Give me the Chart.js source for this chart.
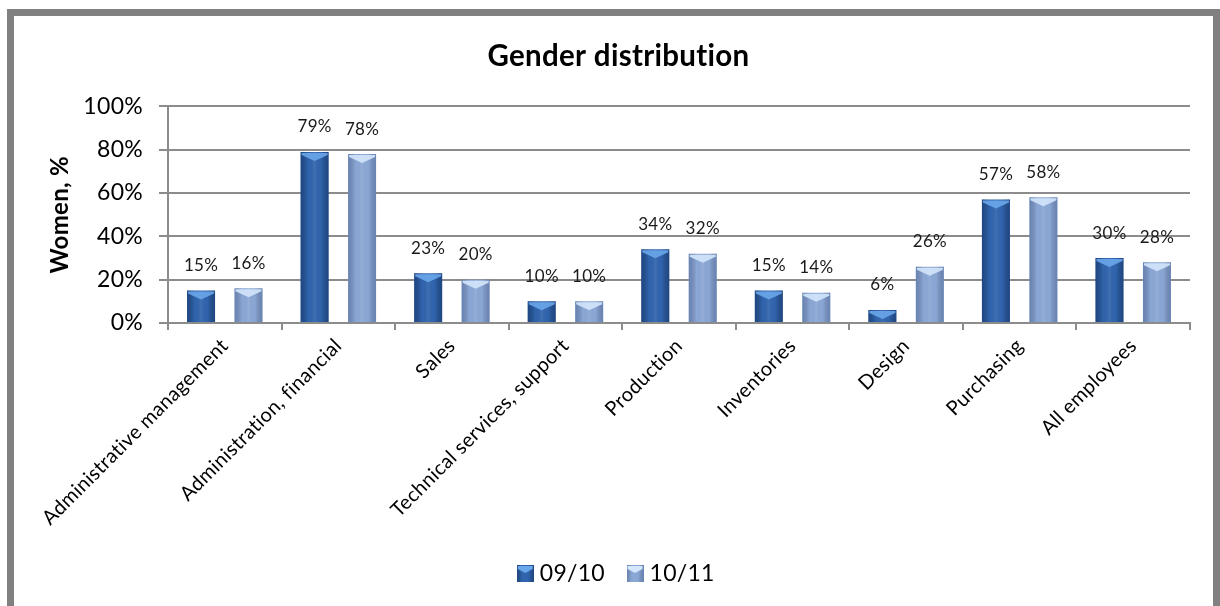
<!DOCTYPE html>
<html>
<head>
<meta charset="utf-8">
<title>Gender distribution</title>
<script src="https://cdn.jsdelivr.net/npm/chart.js@4.4.0/dist/chart.umd.min.js"></script>
<style>
  html, body { margin: 0; padding: 0; background: #fff; overflow: hidden; }
  .frame {
    position: absolute; left: 7px; top: 9px;
    width: 1213px; height: 620px;
    box-sizing: border-box;
    border: 7px solid #808080;
    border-bottom: none;
    background: #fff;
  }
  .chart-box { position: absolute; left: 0; top: 0; width: 1199px; height: 590px; }
</style>
</head>
<body>
<div class="frame">
  <div class="chart-box"><canvas id="genderChart"></canvas></div>
</div>
<script>
  const categories = [
    'Administrative management', 'Administration, financial', 'Sales',
    'Technical services, support', 'Production', 'Inventories',
    'Design', 'Purchasing', 'All employees'
  ];
  const seriesNames = ['09/10', '10/11'];
  const women0910 = [15, 79, 23, 10, 34, 15, 6, 57, 30];
  const women1011 = [16, 78, 20, 10, 32, 14, 26, 58, 28];
  const yTicks = [0, 20, 40, 60, 80, 100];

  const bodyColors = ['#3064ad', '#8ba7d5'];
  const edgeColors = ['rgba(10,35,80,0.45)', 'rgba(40,65,120,0.35)'];
  const capColors = ['#6aa6ea', '#d3e6fb'];

  Chart.defaults.font.family = 'Lato, "Open Sans", sans-serif';
  Chart.defaults.color = '#000';

  // small bevelled square used as legend marker
  function legendMarker(i) {
    const c = document.createElement('canvas');
    c.width = 17; c.height = 17;
    const g = c.getContext('2d');
    g.fillStyle = bodyColors[i];
    g.fillRect(0, 0, 17, 17);
    const lg = g.createLinearGradient(0, 0, 17, 0);
    lg.addColorStop(0, edgeColors[i]);
    lg.addColorStop(0.3, 'rgba(0,0,0,0)');
    lg.addColorStop(0.7, 'rgba(0,0,0,0)');
    lg.addColorStop(1, edgeColors[i]);
    g.fillStyle = lg;
    g.fillRect(0, 0, 17, 17);
    g.fillStyle = capColors[i];
    g.beginPath();
    g.moveTo(1, 1); g.lineTo(16, 1); g.lineTo(16, 4); g.lineTo(8.5, 8); g.lineTo(1, 4);
    g.closePath(); g.fill();
    return c;
  }

  // slight tracking keeps "fi"/"ti" from turning into ligatures
  const textSpacing = {
    id: 'textSpacing',
    beforeLayout(chart) { chart.ctx.letterSpacing = '0.3px'; },
    beforeDraw(chart) { chart.ctx.letterSpacing = '0.3px'; }
  };

  // shading + value labels on top of the plain bars
  const barStyling = {
    id: 'barStyling',
    afterDatasetsDraw(chart) {
      const ctx = chart.ctx;
      chart.data.datasets.forEach((ds, di) => {
        const meta = chart.getDatasetMeta(di);
        meta.data.forEach((bar, i) => {
          const left = bar.x - bar.width / 2;
          const right = bar.x + bar.width / 2;
          const top = Math.min(bar.y, bar.base);
          const h = Math.abs(bar.base - bar.y);
          ctx.save();
          const lg = ctx.createLinearGradient(left, 0, right, 0);
          lg.addColorStop(0, edgeColors[di]);
          lg.addColorStop(0.28, 'rgba(0,0,0,0)');
          lg.addColorStop(0.5, 'rgba(255,255,255,0.08)');
          lg.addColorStop(0.72, 'rgba(0,0,0,0)');
          lg.addColorStop(1, edgeColors[di]);
          ctx.fillStyle = lg;
          ctx.fillRect(left, top, bar.width, h);
          // top bevel
          const capH = Math.min(9, h);
          ctx.fillStyle = capColors[di];
          ctx.globalAlpha = 0.9;
          ctx.beginPath();
          ctx.moveTo(left + 1, top + 1);
          ctx.lineTo(right - 1, top + 1);
          ctx.lineTo(right - 1, top + Math.min(3, capH));
          ctx.lineTo(bar.x, top + capH);
          ctx.lineTo(left + 1, top + Math.min(3, capH));
          ctx.closePath();
          ctx.fill();
          ctx.restore();

          ctx.save();
          ctx.font = '17px Lato, "Open Sans", sans-serif';
          ctx.fillStyle = '#1a1a1a';
          ctx.textAlign = 'center';
          ctx.textBaseline = 'middle';
          ctx.fillText(ds.data[i] + '%', bar.x, bar.y - 25);
          ctx.restore();
        });
      });
    }
  };

  new Chart(document.getElementById('genderChart'), {
    type: 'bar',
    data: {
      labels: categories,
      datasets: [
        { label: seriesNames[0], data: women0910, backgroundColor: bodyColors[0], pointStyle: legendMarker(0) },
        { label: seriesNames[1], data: women1011, backgroundColor: bodyColors[1], pointStyle: legendMarker(1) }
      ]
    },
    options: {
      responsive: true,
      maintainAspectRatio: false,
      animation: false,
      categoryPercentage: 0.836,
      barPercentage: 0.59,
      layout: { padding: { left: 33, right: 23, top: 0, bottom: 11 } },
      plugins: {
        title: {
          display: true,
          text: 'Gender distribution',
          font: { size: 29.5, weight: 'bold' },
          color: '#000',
          padding: { top: 23, bottom: 32 }
        },
        legend: {
          position: 'bottom',
          labels: {
            usePointStyle: true,
            pointStyleWidth: 6,
            font: { size: 23 },
            color: '#000',
            padding: 27
          }
        },
        tooltip: { enabled: false }
      },
      scales: {
        x: {
          afterFit: (scale) => { scale.height = 212; },
          grid: {
            display: true,
            drawOnChartArea: false,
            drawTicks: true,
            tickLength: 7,
            offset: true,
            color: '#8c8c8c',
            lineWidth: 2
          },
          border: { display: true, color: '#8c8c8c', width: 2 },
          ticks: {
            minRotation: 45,
            maxRotation: 45,
            autoSkip: false,
            padding: 4,
            font: { size: 20 },
            color: '#000'
          }
        },
        y: {
          min: 0,
          max: 100,
          afterFit: (scale) => { scale.width = 121; },
          afterBuildTicks: (scale) => { scale.ticks = yTicks.map(v => ({ value: v })); },
          grid: { color: '#8c8c8c', lineWidth: 2, tickLength: 9 },
          border: { display: true, color: '#8c8c8c', width: 2 },
          ticks: {
            padding: 16,
            font: { size: 23 },
            color: '#000',
            callback: (v) => v + '%'
          },
          title: {
            display: true,
            text: 'Women, %',
            font: { size: 24, weight: 'bold', lineHeight: 1.1 },
            color: '#000',
            padding: { top: 0, bottom: 0 }
          }
        }
      }
    },
    plugins: [textSpacing, barStyling]
  });
</script>
</body>
</html>
